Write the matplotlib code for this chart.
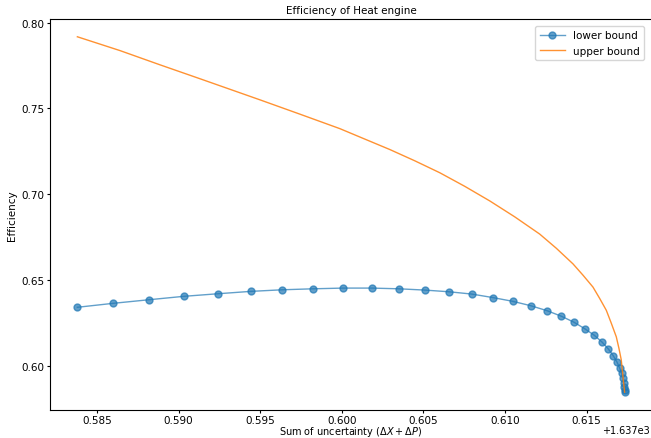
import numpy as np
import matplotlib
matplotlib.use("Agg")
import matplotlib.pyplot as plt

# lower bound, x offset 1637
lower_x = [0.583794, 0.585998, 0.588184, 0.590308, 0.592390, 0.594410, 0.596345,
           0.598243, 0.600080, 0.601819, 0.603490, 0.605082, 0.606570, 0.607960,
           0.609245, 0.610470, 0.611572, 0.612570, 0.613452, 0.614223, 0.614897,
           0.615472, 0.615937, 0.616329, 0.616623, 0.616856, 0.617021, 0.617144,
           0.617223, 0.617279, 0.617303, 0.617322, 0.617328]
lower_y = [0.63403, 0.63635, 0.63843, 0.64041, 0.64191, 0.64330, 0.64423,
           0.64481, 0.64522, 0.64522, 0.64481, 0.64406, 0.64307, 0.64174,
           0.63971, 0.63751, 0.63496, 0.63206, 0.62881, 0.62533, 0.62145,
           0.61768, 0.61380, 0.60974, 0.60591, 0.60214, 0.59867, 0.59548,
           0.59258, 0.58986, 0.58754, 0.58580, 0.58452]

# upper bound curve
upper_x = [0.583794, 0.586408, 0.588857, 0.591306, 0.594980, 0.597429, 0.599878,
           0.601408, 0.602939, 0.604469, 0.606000, 0.607531, 0.609062, 0.610592,
           0.612123, 0.613144, 0.614164, 0.614776, 0.615388, 0.615796, 0.616205,
           0.616511, 0.616817, 0.616980, 0.617123, 0.617266, 0.617328]
upper_y = [0.79171, 0.78365, 0.77536, 0.76725, 0.75496, 0.74661, 0.73816,
           0.73207, 0.72599, 0.71942, 0.71246, 0.70454, 0.69604, 0.68676,
           0.67671, 0.66841, 0.65932, 0.65275, 0.64580, 0.63923, 0.63227,
           0.62473, 0.61681, 0.61005, 0.60329, 0.58976, 0.58452]

x_offset = 1637.0

plt.rcParams['font.family'] = ['DejaVu Sans']
fig = plt.figure(figsize=(6.51, 4.39), dpi=100)
ax = fig.add_axes([50/651, 1 - 411/439, 602/651, 391/439])

ax.plot(np.array(lower_x) + x_offset, lower_y, '-o', color='#1f77b4', alpha=0.7,
        lw=1.0, ms=5, label='lower bound')
ax.plot(np.array(upper_x) + x_offset, upper_y, '-', color='#ff7f0e', alpha=0.85,
        lw=1.0, label='upper bound')

ax.set_title('Efficiency of Heat engine', fontsize=7.5, pad=4)
ax.set_xlabel(r'Sum of uncertainty ($\Delta X + \Delta P$)', fontsize=7, labelpad=-0.5)
ax.set_ylabel('Efficiency', fontsize=7.5, labelpad=3)
ax.tick_params(labelsize=7.5, length=2.5, pad=1.5)
ax.tick_params(axis='x', pad=1)
ax.spines['right'].set_visible(False)
ax.legend(loc='upper right', fontsize=7.5, bbox_to_anchor=(0.995, 0.995),
          handlelength=2.4)

# offset text: take the string the formatter made, draw it where it fits
fig.canvas.draw()
off = ax.xaxis.get_major_formatter().get_offset()
ax.xaxis.get_offset_text().set_visible(False)
fig.text(0.998, 0.006, off, ha='right', va='bottom', fontsize=7)

fig.savefig('out.png', dpi=100)
